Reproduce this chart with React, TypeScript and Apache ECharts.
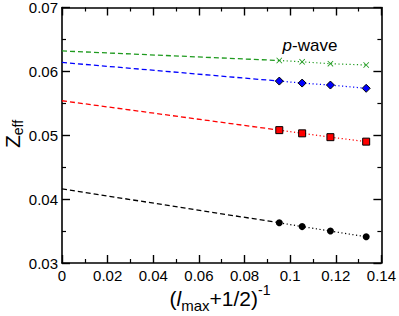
import React, { useEffect, useRef } from "react";
import * as echarts from "echarts";

// x positions (l_max+1/2)^-1 for l_max = 10, 9, 8, 7
const xValues = [0.09524, 0.10526, 0.11765, 0.13333];

// Z_eff values
const greenVals = [0.0617, 0.0615, 0.0612, 0.0610];
const blueVals = [0.05848, 0.05817, 0.05786, 0.05735];
const redVals = [0.0508, 0.0503, 0.0497, 0.0490];
const blackVals = [0.0363, 0.0357, 0.0350, 0.0341];

// extrapolated values at x = 0
const greenExtrap = 0.0632;
const blueExtrap = 0.0614;
const redExtrap = 0.0554;
const blackExtrap = 0.0416;

const xTicks = [0, 0.02, 0.04, 0.06, 0.08, 0.1, 0.12, 0.14];
const yTicks = [0.03, 0.04, 0.05, 0.06, 0.07];

const FONT = "Liberation Sans, Arial, Helvetica, sans-serif";
const CROSS =
  "path://M0,1L1,0L5,4L9,0L10,1L6,5L10,9L9,10L5,6L1,10L0,9L4,5Z";

function fmt(v: number) {
  return String(Math.round(v * 100) / 100);
}

export default function App() {
  const ref = useRef<HTMLDivElement>(null);
  useEffect(() => {
    if (!ref.current) return;
    document.body.style.margin = "0";
    const chart = echarts.init(ref.current, null, { renderer: "svg" });

    const mkSet = (
      color: string,
      extrap: number,
      vals: number[],
      symbol: string,
      size: number,
      border: string,
      borderWidth: number
    ) => [
      {
        type: "line",
        data: [
          [0, extrap],
          [xValues[0], vals[0]],
        ],
        symbol: "none",
        lineStyle: { color, width: 1.3, type: [5, 3] },
        z: 2,
      },
      {
        type: "line",
        data: xValues.map((x, i) => [x, vals[i]]),
        symbol,
        symbolSize: size,
        showSymbol: true,
        itemStyle: { color, borderColor: border, borderWidth },
        lineStyle: { color, width: 1.2, type: [1.2, 2.5] },
        z: 3,
      },
    ];

    const axisCommon = {
      type: "value",
      axisLine: { show: true, onZero: false, lineStyle: { color: "#000", width: 1.6 } },
      axisTick: { show: true, inside: true, length: 8, lineStyle: { color: "#000", width: 1.4 } },
      minorTick: { show: true, splitNumber: 2, length: 4, lineStyle: { color: "#000", width: 1.2 } },
      splitLine: { show: false },
    };

    chart.setOption({
      animation: false,
      grid: { left: 62, right: 16, top: 6, bottom: 53 },
      xAxis: [
        {
          ...axisCommon,
          min: 0,
          max: 0.14,
          interval: 0.02,
          position: "bottom",
          axisLabel: {
            fontFamily: FONT,
            fontSize: 15,
            color: "#000",
            margin: 5,
            formatter: (v: number) => (xTicks.some((t) => Math.abs(t - v) < 1e-9) ? fmt(v) : ""),
          },
        },
        {
          ...axisCommon,
          min: 0,
          max: 0.14,
          interval: 0.02,
          position: "top",
          axisLabel: { show: false },
        },
      ],
      yAxis: [
        {
          ...axisCommon,
          min: 0.03,
          max: 0.07,
          interval: 0.01,
          position: "left",
          axisLabel: {
            fontFamily: FONT,
            fontSize: 15,
            color: "#000",
            margin: 4,
            formatter: (v: number) => (yTicks.some((t) => Math.abs(t - v) < 1e-9) ? fmt(v) : ""),
          },
        },
        {
          ...axisCommon,
          min: 0.03,
          max: 0.07,
          interval: 0.01,
          position: "right",
          axisLabel: { show: false },
        },
      ],
      series: [
        ...mkSet("#1e9a1e", greenExtrap, greenVals, CROSS, 6, "#1e9a1e", 0),
        ...mkSet("#0000ff", blueExtrap, blueVals, "diamond", 8, "#000", 1),
        ...mkSet("#ff0000", redExtrap, redVals, "rect", 7, "#000", 1),
        ...mkSet("#000000", blackExtrap, blackVals, "circle", 7, "#000", 0),
      ],
      graphic: [
        {
          type: "text",
          x: 310,
          y: 45,
          style: {
            text: "{i|p}{n|-wave}",
            fontFamily: FONT,
            fontSize: 17,
            fill: "#000",
            align: "center",
            verticalAlign: "middle",
            rich: {
              i: { fontFamily: FONT, fontSize: 17, fontStyle: "italic", fill: "#000" },
              n: { fontFamily: FONT, fontSize: 17, fill: "#000" },
            },
          },
        },
        {
          type: "text",
          x: 12,
          y: 134,
          rotation: Math.PI / 2,
          style: {
            text: "{z|Z}{s|eff}",
            fontFamily: FONT,
            align: "center",
            verticalAlign: "middle",
            rich: {
              z: { fontFamily: FONT, fontSize: 21, fill: "#000", lineHeight: 26, verticalAlign: "middle" },
              s: { fontFamily: FONT, fontSize: 14, fill: "#000", lineHeight: 26, verticalAlign: "bottom" },
            },
          },
        },
        {
          type: "text",
          x: 220,
          y: 298,
          style: {
            text: "{a|(}{i|l}{s|max}{a|+1/2)}{p|-1}",
            fontFamily: FONT,
            align: "center",
            verticalAlign: "middle",
            rich: {
              a: { fontFamily: FONT, fontSize: 21, fill: "#000", lineHeight: 30, verticalAlign: "middle" },
              i: { fontFamily: FONT, fontSize: 21, fontStyle: "italic", fill: "#000", lineHeight: 30, verticalAlign: "middle" },
              s: { fontFamily: FONT, fontSize: 15, fill: "#000", lineHeight: 30, verticalAlign: "bottom" },
              p: { fontFamily: FONT, fontSize: 14, fill: "#000", lineHeight: 30, verticalAlign: "top" },
            },
          },
        },
      ],
    });
    return () => chart.dispose();
  }, []);
  return <div ref={ref} style={{ width: 399, height: 316 }} />;
}
